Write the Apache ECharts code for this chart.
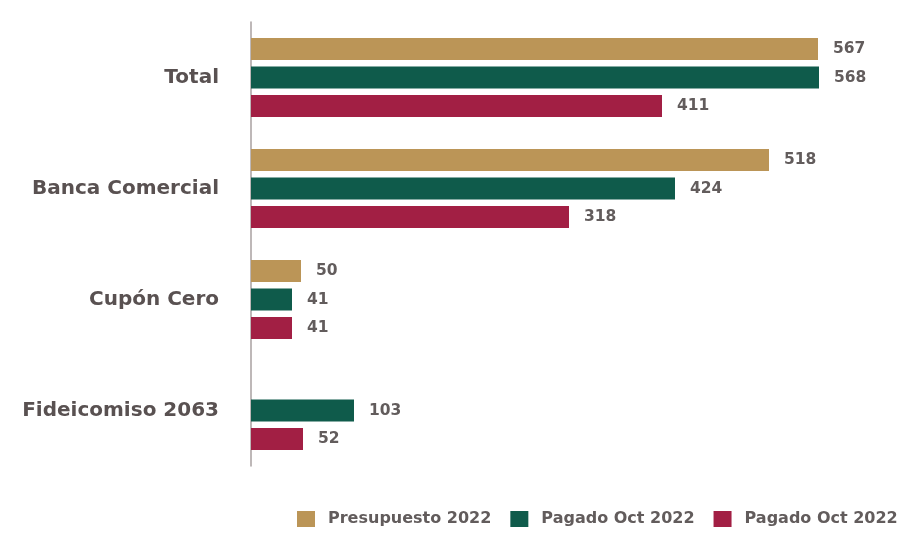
<!DOCTYPE html>
<html>
<head>
<meta charset="utf-8">
<script src="https://cdn.jsdelivr.net/npm/echarts@6/dist/echarts.min.js"></script>
<style>
  html, body { margin: 0; padding: 0; background: #fff; }
  #chart { width: 905px; height: 534px; }
</style>
</head>
<body>
<div id="chart"></div>
<script>
// categorias (de arriba hacia abajo)
const categories = ['Total', 'Banca Comercial', 'Cupón Cero', 'Fideicomiso 2063'];
// nombres de series; el segundo "Pagado" lleva espacio final para que la leyenda no los junte
const seriesNames = ['Presupuesto 2022', 'Pagado Oct 2022', 'Pagado Oct 2022 '];
const presupuesto = [567, 518, 50, null];
const pagadoVerde = [568, 424, 41, 103];
const pagadoRojo = [411, 318, 41, 52];
const colors = ['#bb9557', '#0f5b4b', '#a21f44'];

const FONT = '"DejaVu Sans", sans-serif';

const myChart = echarts.init(document.getElementById('chart'));

function makeSeries(name, data, color) {
  return {
    name: name,
    type: 'bar',
    data: data,
    barWidth: 22,
    barGap: '30%',
    itemStyle: { color: color },
    label: {
      show: true,
      position: 'right',
      distance: 15,
      fontFamily: FONT,
      fontSize: 15.5,
      fontWeight: 'bold',
      color: '#625c5c'
    }
  };
}

myChart.setOption({
  animation: false,
  grid: { left: 251, right: 44, top: 22, height: 444 },
  xAxis: {
    type: 'value',
    min: 0,
    max: 610,
    show: false
  },
  yAxis: {
    type: 'category',
    inverse: true,
    data: categories,
    axisLine: { lineStyle: { color: '#a8a0a0', width: 1.5 } },
    axisTick: { show: false },
    axisLabel: {
      margin: 32,
      fontFamily: FONT,
      fontSize: 20,
      fontWeight: 'bold',
      color: '#595151'
    }
  },
  legend: {
    left: 297,
    top: 511,
    padding: 0,
    icon: 'rect',
    itemWidth: 18,
    itemHeight: 16,
    itemGap: 19,
    formatter: (n) => n.trim(),
    textStyle: {
      fontFamily: FONT,
      fontSize: 16,
      fontWeight: 'bold',
      color: '#625c5c',
      padding: [0, 0, 0, 8]
    },
    data: seriesNames
  },
  series: [
    makeSeries(seriesNames[0], presupuesto, colors[0]),
    makeSeries(seriesNames[1], pagadoVerde, colors[1]),
    makeSeries(seriesNames[2], pagadoRojo, colors[2])
  ]
});
</script>
</body>
</html>
